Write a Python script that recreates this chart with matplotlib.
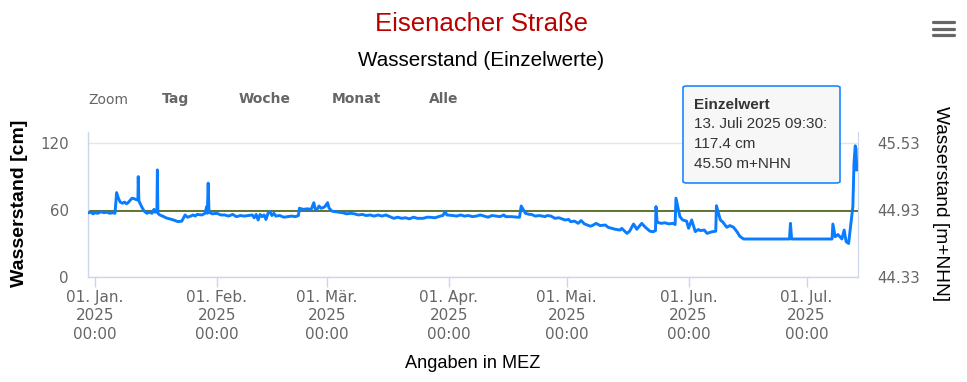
import matplotlib
matplotlib.use("Agg")
import matplotlib.pyplot as plt
from matplotlib.patches import FancyBboxPatch
from matplotlib.lines import Line2D
import pandas as pd

zeit = [
    "2024-12-30 08:00", "2024-12-31 00:00", "2024-12-31 12:00", "2025-01-01 00:00", "2025-01-01 18:00",
    "2025-01-02 12:00", "2025-01-03 06:00", "2025-01-04 00:00", "2025-01-04 18:00", "2025-01-05 12:00",
    "2025-01-06 02:00", "2025-01-06 12:00", "2025-01-07 00:00", "2025-01-07 10:00", "2025-01-08 00:00",
    "2025-01-08 12:00", "2025-01-09 00:00", "2025-01-09 10:00", "2025-01-10 10:00", "2025-01-11 00:00",
    "2025-01-11 16:00", "2025-01-11 22:00", "2025-01-12 00:00", "2025-01-12 04:00", "2025-01-13 00:00",
    "2025-01-13 12:00", "2025-01-14 05:00", "2025-01-14 20:00", "2025-01-15 12:00", "2025-01-16 00:00",
    "2025-01-16 07:00", "2025-01-16 18:00", "2025-01-16 21:00", "2025-01-17 00:00", "2025-01-17 12:00",
    "2025-01-18 12:00", "2025-01-19 00:00", "2025-01-20 00:00", "2025-01-21 00:00", "2025-01-22 03:00",
    "2025-01-23 02:00", "2025-01-23 22:00", "2025-01-24 12:00", "2025-01-25 00:00", "2025-01-26 00:00",
    "2025-01-26 12:00", "2025-01-27 00:00", "2025-01-28 05:00", "2025-01-29 00:00", "2025-01-29 10:00",
    "2025-01-29 14:00", "2025-01-29 19:00", "2025-01-30 00:00", "2025-01-30 20:00", "2025-02-01 00:00",
    "2025-02-02 00:00", "2025-02-03 00:00", "2025-02-04 00:00", "2025-02-05 00:00", "2025-02-06 00:00",
    "2025-02-07 00:00", "2025-02-08 00:00", "2025-02-09 00:00", "2025-02-10 00:00", "2025-02-10 12:00",
    "2025-02-11 00:00", "2025-02-11 12:00", "2025-02-12 00:00", "2025-02-12 12:00", "2025-02-13 00:00",
    "2025-02-13 12:00", "2025-02-14 00:00", "2025-02-14 12:00", "2025-02-15 00:00", "2025-02-15 12:00",
    "2025-02-16 00:00", "2025-02-17 00:00", "2025-02-18 00:00", "2025-02-19 00:00", "2025-02-20 00:00",
    "2025-02-21 00:00", "2025-02-21 18:00", "2025-02-22 00:00", "2025-02-23 00:00", "2025-02-24 00:00",
    "2025-02-25 00:00", "2025-02-25 16:00", "2025-02-26 00:00", "2025-02-26 12:00", "2025-02-27 00:00",
    "2025-02-27 12:00", "2025-02-28 00:00", "2025-02-28 12:00", "2025-03-01 04:00", "2025-03-01 12:00",
    "2025-03-02 05:00", "2025-03-03 00:00", "2025-03-04 00:00", "2025-03-05 00:00", "2025-03-06 00:00",
    "2025-03-07 00:00", "2025-03-08 00:00", "2025-03-09 00:00", "2025-03-10 00:00", "2025-03-11 00:00",
    "2025-03-12 00:00", "2025-03-13 00:00", "2025-03-14 00:00", "2025-03-15 00:00",
    "2025-03-16 00:00", "2025-03-17 00:00", "2025-03-18 00:00", "2025-03-19 00:00", "2025-03-20 00:00",
    "2025-03-21 00:00", "2025-03-22 00:00", "2025-03-23 00:00", "2025-03-24 00:00", "2025-03-25 12:00",
    "2025-03-26 12:00", "2025-03-27 00:00", "2025-03-28 12:00", "2025-03-29 20:00", "2025-03-30 12:00",
    "2025-03-31 02:00", "2025-03-31 12:00", "2025-04-02 00:00", "2025-04-03 00:00", "2025-04-04 00:00",
    "2025-04-05 00:00", "2025-04-06 00:00", "2025-04-07 00:00", "2025-04-08 00:00", "2025-04-09 00:00",
    "2025-04-10 00:00", "2025-04-11 00:00", "2025-04-12 00:00", "2025-04-13 00:00", "2025-04-14 00:00",
    "2025-04-15 00:00", "2025-04-15 12:00", "2025-04-17 00:00", "2025-04-18 12:00", "2025-04-19 00:00",
    "2025-04-19 10:00", "2025-04-20 12:00", "2025-04-21 12:00", "2025-04-22 00:00", "2025-04-23 00:00",
    "2025-04-24 00:00", "2025-04-25 12:00", "2025-04-26 00:00",
    "2025-04-27 00:00", "2025-04-28 00:00", "2025-04-29 00:00", "2025-04-30 14:00", "2025-05-01 12:00",
    "2025-05-02 00:00", "2025-05-03 00:00", "2025-05-03 22:00", "2025-05-04 16:00", "2025-05-05 12:00",
    "2025-05-07 00:00", "2025-05-07 12:00", "2025-05-08 12:00", "2025-05-09 12:00", "2025-05-10 20:00",
    "2025-05-11 12:00", "2025-05-13 08:00", "2025-05-14 14:00", "2025-05-15 00:00", "2025-05-16 08:00",
    "2025-05-17 00:00", "2025-05-18 00:00", "2025-05-18 20:00", "2025-05-19 00:00", "2025-05-20 02:00",
    "2025-05-21 00:00", "2025-05-22 04:00", "2025-05-23 00:00", "2025-05-23 14:00", "2025-05-23 17:00",
    "2025-05-24 00:00", "2025-05-25 00:00", "2025-05-26 00:00", "2025-05-27 00:00", "2025-05-28 00:00",
    "2025-05-28 14:00", "2025-05-28 19:00", "2025-05-29 19:00", "2025-05-30 12:00", "2025-05-31 12:00",
    "2025-06-01 00:00", "2025-06-01 19:00", "2025-06-02 17:00", "2025-06-03 12:00", "2025-06-04 00:00",
    "2025-06-05 00:00", "2025-06-05 17:00", "2025-06-06 12:00", "2025-06-07 00:00", "2025-06-07 22:00",
    "2025-06-08 02:00", "2025-06-09 02:00", "2025-06-09 18:00", "2025-06-10 17:00", "2025-06-11 12:00",
    "2025-06-12 10:00", "2025-06-13 00:00", "2025-06-13 12:00", "2025-06-14 00:00", "2025-06-15 00:00",
    "2025-06-26 16:00", "2025-06-26 22:00", "2025-06-27 05:00", "2025-07-07 12:00", "2025-07-07 17:00",
    "2025-07-08 07:00", "2025-07-09 00:00", "2025-07-10 00:00", "2025-07-10 14:00", "2025-07-11 02:00",
    "2025-07-11 17:00", "2025-07-12 05:00", "2025-07-12 19:00", "2025-07-13 02:00", "2025-07-13 09:30",
    "2025-07-13 14:00", "2025-07-13 19:00",
]
wasserstand = [
    57.5, 58, 56.5, 57.5, 57,
    58.5, 57.5, 58, 57, 57.5,
    57, 75.5, 70, 67, 66,
    67, 65.5, 66.5, 70.5, 70,
    69, 70, 89.8, 68, 62,
    59, 57, 58, 57, 60.5,
    58, 59, 95.8, 57, 55.5,
    54, 53, 52, 51, 49.5,
    50, 55.5, 53.5, 54, 55.5,
    54.5, 56, 55.5, 57, 63,
    57, 84, 58, 56.5, 57,
    55.5, 55.5, 54.5, 56, 54,
    55, 54.5, 55, 55.5, 53,
    56, 51, 56, 54, 55.5,
    51.5, 57, 58.5, 55, 57,
    54.5, 55, 53.5, 54, 54.5,
    54, 55, 61.5, 60.5, 61,
    60.5, 66.5, 61, 60.5, 63.5,
    61.5, 62, 63, 66.5, 62,
    59, 58.5, 58, 57.5, 56.5,
    57, 56.5, 55.5, 56, 55,
    55.5, 54.5, 55.5, 54.5,
    55.5, 54, 52.5, 53.5, 52.5,
    53, 52, 53.5, 52.5, 52.5,
    53.5, 53.5, 53, 54.5, 55,
    58.5, 55.5, 55, 54.5, 55.5,
    54.5, 55, 54, 54.5, 55.5,
    54.5, 53.5, 55, 54.5, 54,
    55.5, 54, 54, 53.5, 53.5,
    63.5, 57, 56, 56, 54.5,
    55, 54, 55,
    54.5, 52.5, 53, 51, 51.5,
    49.5, 50, 48, 50.5, 47.5,
    45.5, 46, 48, 46, 46.5,
    44.5, 42.7, 42, 43.5, 39,
    41, 47.4, 42.7, 43.5, 48,
    44.5, 41, 40.5, 41.5, 63,
    49, 48, 48.5, 47.5, 48,
    47, 70.5, 54, 51, 50,
    43.6, 51, 40.6, 42.5, 41.5,
    42, 39, 40, 40.5, 41,
    63.8, 51, 49, 44.5, 46,
    44.5, 42, 39.5, 36.5, 34,
    34, 48, 34, 34, 47.4,
    36, 38, 34, 42, 31.6,
    30, 45, 63, 101.8, 117.4,
    115, 95.8,
]
grenzwert = 59  # olivgruene Linie [cm]
nhn_null = 44.33  # Pegelnull [m+NHN]

monate = ["2025-01-01", "2025-02-01", "2025-03-01", "2025-04-01", "2025-05-01", "2025-06-01", "2025-07-01"]
monat_namen = ["Jan.", "Feb.", "Mär.", "Apr.", "Mai.", "Jun.", "Jul."]
links_ticks = [0, 60, 120]
rechts_ticks = [44.33, 44.93, 45.53]

W, H = 967, 382
fig = plt.figure(figsize=(W / 100, H / 100), dpi=100)
ax = fig.add_axes([88 / W, 105 / H, 770 / W, 145.3 / H])

blau = '#0a7cff'
grau = '#666666'
achse = '#ccd6eb'

ax.plot(pd.to_datetime(zeit), wasserstand, color=blau, lw=2.1, zorder=3)
ax.axhline(grenzwert, color='#55691f', lw=1.3, zorder=2)

start = pd.Timestamp("2025-01-01")
ax.set_xlim(start - pd.Timedelta(days=1.78), start + pd.Timedelta(days=194.1))
ax.set_ylim(0, 130)
ax.set_yticks(links_ticks)
ax.set_yticklabels([str(v) for v in links_ticks])
ax.set_xticks(pd.to_datetime(monate))
ax.set_xticklabels([f"01. {m}\n2025\n00:00" for m in monat_namen], linespacing=1.3)
ax.grid(axis='y', color='#e6e6e6', lw=1, zorder=0)
ax.grid(axis='x', visible=False)

for s in ['top', 'right']:
    ax.spines[s].set_visible(False)
for s in ['left', 'bottom']:
    ax.spines[s].set_color(achse)
    ax.spines[s].set_linewidth(1)

ax.tick_params(axis='y', length=0, pad=14, labelsize=10.8, labelcolor=grau)
ax.tick_params(axis='x', length=7.2, width=1, color=achse, pad=2, labelsize=11, labelcolor=grau)

ax2 = ax.twinx()
ax2.set_ylim(nhn_null, nhn_null + 1.30)
ax2.set_yticks(rechts_ticks)
ax2.set_yticklabels([f"{v:.2f}" for v in rechts_ticks])
ax2.tick_params(axis='y', length=0, pad=14, labelsize=10.8, labelcolor=grau)
for s in ['top', 'left', 'bottom']:
    ax2.spines[s].set_visible(False)
ax2.spines['right'].set_color(achse)

# Titel und Achsenbeschriftungen
sans = ['Liberation Sans', 'DejaVu Sans']
fig.text(0.4975, 1 - 24 / H, "Eisenacher Straße", ha='center', va='center',
         fontsize=18.5, color='#b80000', family=sans)
fig.text(0.4975, 1 - 60 / H, "Wasserstand (Einzelwerte)", ha='center', va='center',
         fontsize=14.9, color='black', family=sans)
fig.text(473 / W, 1 - 363 / H, "Angaben in MEZ", ha='center', va='center',
         fontsize=13.1, color='black', family=sans)
fig.text(20 / W, 1 - 203.5 / H, "Wasserstand [cm]", ha='center', va='center', rotation=90,
         fontsize=14, fontweight='bold', color='black', family=sans)
fig.text(940 / W, 1 - 203.5 / H, "Wasserstand [m+NHN]", ha='center', va='center', rotation=270,
         fontsize=13.8, color='black', family=sans)

# Zeitraum-Knoepfe
fig.text(88 / W, 1 - 100 / H, "Zoom", ha='left', va='center', fontsize=10, color=grau)
for name, xc in [("Tag", 176), ("Woche", 265), ("Monat", 356), ("Alle", 444)]:
    fig.text(xc / W, 1 - 99 / H, name, ha='center', va='center', fontsize=10,
             fontweight='bold', color=grau)

# Tooltip
box = FancyBboxPatch((683 / W, 1 - 183 / H), (840 - 683) / W, (183 - 86) / H,
                     boxstyle="round,pad=0,rounding_size=0.004", transform=fig.transFigure,
                     facecolor='#f7f7f7', edgecolor=blau, lw=1.2, alpha=0.92, zorder=10)
fig.add_artist(box)
tip = [("Einzelwert", 'bold'), ("13. Juli 2025 09:30:", 'normal'),
       ("117.4 cm", 'normal'), ("45.50 m+NHN", 'normal')]
for i, (t, w) in enumerate(tip):
    fig.text(694 / W, 1 - (105 + i * 19.5) / H, t, ha='left', va='center', fontsize=11,
             fontweight=w, color='#333333', family=sans, zorder=11)

# Menue-Symbol
for yy in [22, 28.5, 35]:
    fig.add_artist(Line2D([933 / W, 954 / W], [1 - yy / H, 1 - yy / H], transform=fig.transFigure,
                          color=grau, lw=2.3, solid_capstyle='round'))

fig.savefig("out.png", dpi=100)
